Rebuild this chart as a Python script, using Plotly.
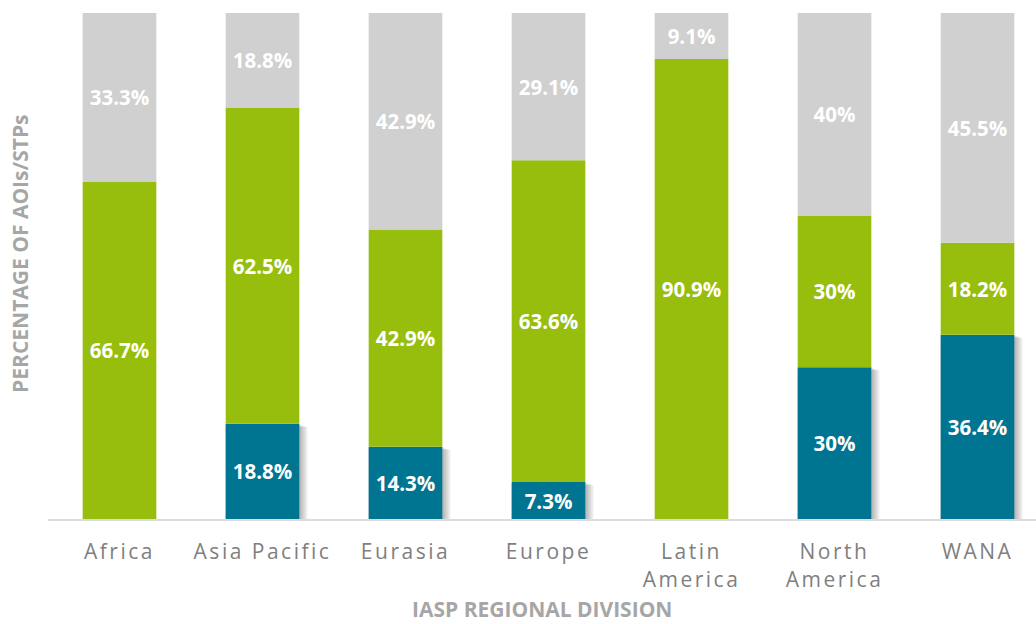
import plotly.graph_objects as go

regions = ["Africa", "Asia Pacific", "Eurasia", "Europe", "Latin America", "North America", "WANA"]
tick_labels = ["Africa", "Asia Pacific", "Eurasia", "Europe", "Latin<br>America", "North<br>America", "WANA"]
teal_vals = [0, 18.8, 14.3, 7.3, 0, 30, 36.4]
green_vals = [66.7, 62.5, 42.9, 63.6, 90.9, 30, 18.2]
gray_vals = [33.3, 18.8, 42.9, 29.1, 9.1, 40, 45.5]

TEAL = "#007591"
GREEN = "#97BE0D"
GRAY = "#D0D0D0"
BAR_W = 0.515


def labels(vals):
    return [f"{v:g}%" if v > 0 else "" for v in vals]


fig = go.Figure()

# soft drop shadow behind the teal bars (layered translucent bars)
for k in range(1, 5):
    fig.add_trace(go.Bar(
        x=regions,
        y=[max(v - 0.15 * k, 0) for v in teal_vals],
        base=[0] * len(regions),
        width=[BAR_W + 0.014 * k] * len(regions),
        offset=[-BAR_W / 2] * len(regions),
        marker=dict(color="rgba(0,0,0,0.075)", line=dict(width=0)),
        hoverinfo="skip", showlegend=False,
    ))

green_base = teal_vals
gray_base = [a + b for a, b in zip(teal_vals, green_vals)]

for vals, base, color in [(teal_vals, [0] * len(regions), TEAL),
                          (green_vals, green_base, GREEN),
                          (gray_vals, gray_base, GRAY)]:
    fig.add_trace(go.Bar(
        x=regions, y=vals, base=base,
        width=[BAR_W] * len(regions),
        offset=[-BAR_W / 2] * len(regions),
        marker=dict(color=color, line=dict(width=0)),
        text=labels(vals), textposition="inside", insidetextanchor="middle",
        textangle=0,
        textfont=dict(family="Open Sans", size=20.5, color="white", weight="bold"),
        showlegend=False,
    ))

fig.update_layout(
    width=1036, height=624,
    barmode="overlay",
    margin=dict(l=48, r=0, t=13, b=105),
    paper_bgcolor="white", plot_bgcolor="white",
    uniformtext=dict(minsize=20, mode="show"),
    xaxis=dict(
        range=[-0.5, 6.409],
        tickvals=regions, ticktext=tick_labels,
        tickfont=dict(family="Open Sans", size=21, color="#7f7f7f"),
        showline=True, linecolor="#dcdcdc", linewidth=2,
        showgrid=False, ticks="", ticklabelstandoff=13,
    ),
    yaxis=dict(range=[0, 100], showticklabels=False, showgrid=False,
               zeroline=False, showline=False, ticks=""),
    annotations=[
        dict(text="<b>IASP REGIONAL DIVISION</b>", xref="paper", yref="paper",
             x=0.5, y=-0.178, xanchor="center", yanchor="middle", showarrow=False,
             font=dict(family="Open Sans", size=21, color="#a6a6a6")),
        dict(text="<b>PERCENTAGE OF AOIs/STPs</b>", xref="paper", yref="paper",
             x=-0.0283, y=0.524, xanchor="center", yanchor="middle", showarrow=False,
             textangle=-90,
             font=dict(family="Open Sans", size=21, color="#a6a6a6")),
    ],
)

post = """
document.body.style.margin = '0';
document.documentElement.style.margin = '0';
var s = document.createElement('style');
s.innerHTML = 'body{margin:0;} .xtick text { letter-spacing: 2.5px; }';
document.head.appendChild(s);
"""

fig.write_html("out.html", post_script=post, config={"displayModeBar": False})
